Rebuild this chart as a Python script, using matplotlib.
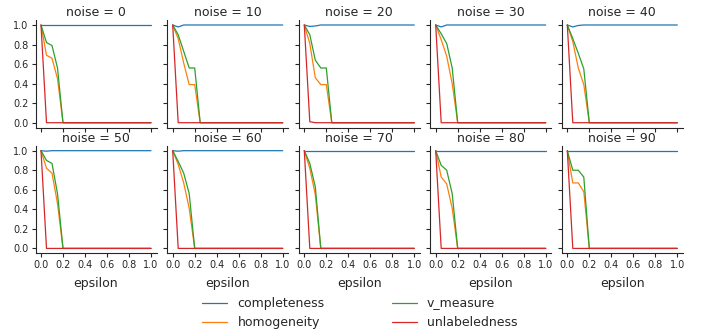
import matplotlib
matplotlib.use("Agg")
import matplotlib.pyplot as plt
import seaborn as sns

sns.set_theme(style="ticks")
plt.rcParams['font.family'] = ['DejaVu Sans']

epsilon = [0.0, 0.05, 0.1, 0.15, 0.2, 0.25, 0.3, 0.35, 0.4, 0.45, 0.5,
           0.55, 0.6, 0.65, 0.7, 0.75, 0.8, 0.85, 0.9, 0.95, 1.0]
noise_levels = [0, 10, 20, 30, 40, 50, 60, 70, 80, 90]
metrics = ["completeness", "homogeneity", "v_measure", "unlabeledness"]
colors = ["#1f77b4", "#ff7f0e", "#2ca02c", "#d62728"]

completeness = [
    [1.0, 1.0, 1.0, 1.0, 1.0, 1.0, 1.0, 1.0, 1.0, 1.0, 1.0, 1.0, 1.0, 1.0, 1.0, 1.0, 1.0, 1.0, 1.0, 1.0, 1.0],
    [1.0, 0.98, 1.0, 1.0, 1.0, 1.0, 1.0, 1.0, 1.0, 1.0, 1.0, 1.0, 1.0, 1.0, 1.0, 1.0, 1.0, 1.0, 1.0, 1.0, 1.0],
    [1.0, 0.985, 0.99, 1.0, 1.0, 1.0, 1.0, 1.0, 1.0, 1.0, 1.0, 1.0, 1.0, 1.0, 1.0, 1.0, 1.0, 1.0, 1.0, 1.0, 1.0],
    [1.0, 0.98, 1.0, 1.0, 1.0, 1.0, 1.0, 1.0, 1.0, 1.0, 1.0, 1.0, 1.0, 1.0, 1.0, 1.0, 1.0, 1.0, 1.0, 1.0, 1.0],
    [1.0, 0.98, 0.995, 1.0, 1.0, 1.0, 1.0, 1.0, 1.0, 1.0, 1.0, 1.0, 1.0, 1.0, 1.0, 1.0, 1.0, 1.0, 1.0, 1.0, 1.0],
    [1.0, 0.995, 1.0, 1.0, 1.0, 1.0, 1.0, 1.0, 1.0, 1.0, 1.0, 1.0, 1.0, 1.0, 1.0, 1.0, 1.0, 1.0, 1.0, 1.0, 1.0],
    [1.0, 0.995, 1.0, 1.0, 1.0, 1.0, 1.0, 1.0, 1.0, 1.0, 1.0, 1.0, 1.0, 1.0, 1.0, 1.0, 1.0, 1.0, 1.0, 1.0, 1.0],
    [1.0, 1.0, 1.0, 1.0, 1.0, 1.0, 1.0, 1.0, 1.0, 1.0, 1.0, 1.0, 1.0, 1.0, 1.0, 1.0, 1.0, 1.0, 1.0, 1.0, 1.0],
    [1.0, 1.0, 1.0, 1.0, 1.0, 1.0, 1.0, 1.0, 1.0, 1.0, 1.0, 1.0, 1.0, 1.0, 1.0, 1.0, 1.0, 1.0, 1.0, 1.0, 1.0],
    [1.0, 1.0, 1.0, 1.0, 1.0, 1.0, 1.0, 1.0, 1.0, 1.0, 1.0, 1.0, 1.0, 1.0, 1.0, 1.0, 1.0, 1.0, 1.0, 1.0, 1.0],
]

homogeneity = [
    [1.0, 0.69, 0.66, 0.45, 0.0, 0.0, 0.0, 0.0, 0.0, 0.0, 0.0, 0.0, 0.0, 0.0, 0.0, 0.0, 0.0, 0.0, 0.0, 0.0, 0.0],
    [1.0, 0.86, 0.61, 0.39, 0.39, 0.0, 0.0, 0.0, 0.0, 0.0, 0.0, 0.0, 0.0, 0.0, 0.0, 0.0, 0.0, 0.0, 0.0, 0.0, 0.0],
    [1.0, 0.81, 0.46, 0.39, 0.39, 0.0, 0.0, 0.0, 0.0, 0.0, 0.0, 0.0, 0.0, 0.0, 0.0, 0.0, 0.0, 0.0, 0.0, 0.0, 0.0],
    [1.0, 0.85, 0.68, 0.40, 0.0, 0.0, 0.0, 0.0, 0.0, 0.0, 0.0, 0.0, 0.0, 0.0, 0.0, 0.0, 0.0, 0.0, 0.0, 0.0, 0.0],
    [1.0, 0.83, 0.56, 0.39, 0.0, 0.0, 0.0, 0.0, 0.0, 0.0, 0.0, 0.0, 0.0, 0.0, 0.0, 0.0, 0.0, 0.0, 0.0, 0.0, 0.0],
    [1.0, 0.82, 0.77, 0.46, 0.0, 0.0, 0.0, 0.0, 0.0, 0.0, 0.0, 0.0, 0.0, 0.0, 0.0, 0.0, 0.0, 0.0, 0.0, 0.0, 0.0],
    [1.0, 0.86, 0.67, 0.41, 0.0, 0.0, 0.0, 0.0, 0.0, 0.0, 0.0, 0.0, 0.0, 0.0, 0.0, 0.0, 0.0, 0.0, 0.0, 0.0, 0.0],
    [1.0, 0.82, 0.55, 0.0, 0.0, 0.0, 0.0, 0.0, 0.0, 0.0, 0.0, 0.0, 0.0, 0.0, 0.0, 0.0, 0.0, 0.0, 0.0, 0.0, 0.0],
    [1.0, 0.73, 0.66, 0.41, 0.0, 0.0, 0.0, 0.0, 0.0, 0.0, 0.0, 0.0, 0.0, 0.0, 0.0, 0.0, 0.0, 0.0, 0.0, 0.0, 0.0],
    [1.0, 0.67, 0.67, 0.58, 0.0, 0.0, 0.0, 0.0, 0.0, 0.0, 0.0, 0.0, 0.0, 0.0, 0.0, 0.0, 0.0, 0.0, 0.0, 0.0, 0.0],
]

v_measure = [
    [1.0, 0.82, 0.79, 0.56, 0.0, 0.0, 0.0, 0.0, 0.0, 0.0, 0.0, 0.0, 0.0, 0.0, 0.0, 0.0, 0.0, 0.0, 0.0, 0.0, 0.0],
    [1.0, 0.90, 0.73, 0.56, 0.56, 0.0, 0.0, 0.0, 0.0, 0.0, 0.0, 0.0, 0.0, 0.0, 0.0, 0.0, 0.0, 0.0, 0.0, 0.0, 0.0],
    [1.0, 0.90, 0.64, 0.56, 0.56, 0.0, 0.0, 0.0, 0.0, 0.0, 0.0, 0.0, 0.0, 0.0, 0.0, 0.0, 0.0, 0.0, 0.0, 0.0, 0.0],
    [1.0, 0.91, 0.81, 0.56, 0.0, 0.0, 0.0, 0.0, 0.0, 0.0, 0.0, 0.0, 0.0, 0.0, 0.0, 0.0, 0.0, 0.0, 0.0, 0.0, 0.0],
    [1.0, 0.86, 0.71, 0.55, 0.0, 0.0, 0.0, 0.0, 0.0, 0.0, 0.0, 0.0, 0.0, 0.0, 0.0, 0.0, 0.0, 0.0, 0.0, 0.0, 0.0],
    [1.0, 0.90, 0.87, 0.56, 0.0, 0.0, 0.0, 0.0, 0.0, 0.0, 0.0, 0.0, 0.0, 0.0, 0.0, 0.0, 0.0, 0.0, 0.0, 0.0, 0.0],
    [1.0, 0.89, 0.77, 0.56, 0.0, 0.0, 0.0, 0.0, 0.0, 0.0, 0.0, 0.0, 0.0, 0.0, 0.0, 0.0, 0.0, 0.0, 0.0, 0.0, 0.0],
    [1.0, 0.87, 0.63, 0.0, 0.0, 0.0, 0.0, 0.0, 0.0, 0.0, 0.0, 0.0, 0.0, 0.0, 0.0, 0.0, 0.0, 0.0, 0.0, 0.0, 0.0],
    [1.0, 0.85, 0.80, 0.56, 0.0, 0.0, 0.0, 0.0, 0.0, 0.0, 0.0, 0.0, 0.0, 0.0, 0.0, 0.0, 0.0, 0.0, 0.0, 0.0, 0.0],
    [1.0, 0.80, 0.80, 0.73, 0.0, 0.0, 0.0, 0.0, 0.0, 0.0, 0.0, 0.0, 0.0, 0.0, 0.0, 0.0, 0.0, 0.0, 0.0, 0.0, 0.0],
]

unlabeledness = [
    [1.0, 0.0, 0.0, 0.0, 0.0, 0.0, 0.0, 0.0, 0.0, 0.0, 0.0, 0.0, 0.0, 0.0, 0.0, 0.0, 0.0, 0.0, 0.0, 0.0, 0.0],
    [1.0, 0.0, 0.0, 0.0, 0.0, 0.0, 0.0, 0.0, 0.0, 0.0, 0.0, 0.0, 0.0, 0.0, 0.0, 0.0, 0.0, 0.0, 0.0, 0.0, 0.0],
    [1.0, 0.01, 0.0, 0.0, 0.0, 0.0, 0.0, 0.0, 0.0, 0.0, 0.0, 0.0, 0.0, 0.0, 0.0, 0.0, 0.0, 0.0, 0.0, 0.0, 0.0],
    [1.0, 0.0, 0.0, 0.0, 0.0, 0.0, 0.0, 0.0, 0.0, 0.0, 0.0, 0.0, 0.0, 0.0, 0.0, 0.0, 0.0, 0.0, 0.0, 0.0, 0.0],
    [1.0, 0.0, 0.0, 0.0, 0.0, 0.0, 0.0, 0.0, 0.0, 0.0, 0.0, 0.0, 0.0, 0.0, 0.0, 0.0, 0.0, 0.0, 0.0, 0.0, 0.0],
    [1.0, 0.0, 0.0, 0.0, 0.0, 0.0, 0.0, 0.0, 0.0, 0.0, 0.0, 0.0, 0.0, 0.0, 0.0, 0.0, 0.0, 0.0, 0.0, 0.0, 0.0],
    [1.0, 0.0, 0.0, 0.0, 0.0, 0.0, 0.0, 0.0, 0.0, 0.0, 0.0, 0.0, 0.0, 0.0, 0.0, 0.0, 0.0, 0.0, 0.0, 0.0, 0.0],
    [1.0, 0.0, 0.0, 0.0, 0.0, 0.0, 0.0, 0.0, 0.0, 0.0, 0.0, 0.0, 0.0, 0.0, 0.0, 0.0, 0.0, 0.0, 0.0, 0.0, 0.0],
    [1.0, 0.0, 0.0, 0.0, 0.0, 0.0, 0.0, 0.0, 0.0, 0.0, 0.0, 0.0, 0.0, 0.0, 0.0, 0.0, 0.0, 0.0, 0.0, 0.0, 0.0],
    [1.0, 0.0, 0.0, 0.0, 0.0, 0.0, 0.0, 0.0, 0.0, 0.0, 0.0, 0.0, 0.0, 0.0, 0.0, 0.0, 0.0, 0.0, 0.0, 0.0, 0.0],
]

series = [completeness, homogeneity, v_measure, unlabeledness]
yticks = [0.0, 0.2, 0.4, 0.6, 0.8, 1.0]
xticks = [0.0, 0.2, 0.4, 0.6, 0.8, 1.0]

W, H = 704, 333
fig = plt.figure(figsize=(W / 100, H / 100), dpi=100)

ax_w = 121 / W
ax_h_px = 107.5
col_left_px = [35.5, 167.2, 298.8, 430.2, 561.8]
row_top_px = [20.1, 145.8]

axes = []
for i, noise in enumerate(noise_levels):
    r, c = divmod(i, 5)
    left = col_left_px[c] / W
    bottom = 1 - (row_top_px[r] + ax_h_px) / H
    ax = fig.add_axes([left, bottom, ax_w, ax_h_px / H])
    axes.append(ax)
    handles = []
    for m, data, col in zip(metrics, series, colors):
        h, = ax.plot(epsilon, data[i], color=col, lw=0.9, label=m)
        handles.append(h)
    ax.set_xlim(-0.05, 1.05)
    ax.set_ylim(-0.05, 1.05)
    ax.set_xticks(xticks)
    ax.set_yticks(yticks)
    ax.tick_params(axis='both', labelsize=7, length=3, width=0.8, pad=2,
                   colors='#262626')
    for s in ['top', 'right']:
        ax.spines[s].set_visible(False)
    for s in ['left', 'bottom']:
        ax.spines[s].set_linewidth(0.8)
        ax.spines[s].set_color('#262626')
    if c != 0:
        ax.set_yticklabels([])
    else:
        ax.set_yticklabels([f"{v:.1f}" for v in yticks])
    if r == 0:
        ax.set_xticklabels([])
    else:
        ax.set_xticklabels([f"{v:.1f}" for v in xticks])
        ax.set_xlabel("epsilon", fontsize=9, labelpad=5, color='#262626')
    ax.set_title(f"noise = {noise}", fontsize=9, pad=3, color='#262626')

fig.legend(handles=handles, labels=metrics, loc='upper center',
           bbox_to_anchor=(360 / W, 1 - 286 / H), ncol=2, frameon=False,
           fontsize=9, columnspacing=5.4, handlelength=2.0,
           handletextpad=0.8, labelspacing=0.45)

fig.savefig("out.png", dpi=100)
